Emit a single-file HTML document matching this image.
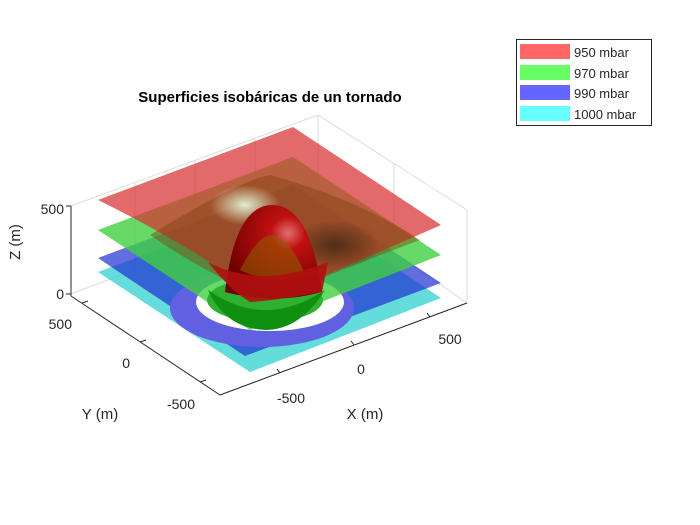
<!DOCTYPE html>
<html><head><meta charset="utf-8"><style>
html,body{margin:0;padding:0;background:#fff}
svg{display:block}
text{font-family:"Liberation Sans",sans-serif;fill:#262626}
</style></head><body>
<svg width="700" height="525" viewBox="0 0 700 525" xmlns="http://www.w3.org/2000/svg">
<defs>
<radialGradient id="glow" cx="0.5" cy="0.5" r="0.5"><stop offset="0" stop-color="#e8ffe0" stop-opacity="0.9"/><stop offset="1" stop-color="#e8ffe0" stop-opacity="0"/></radialGradient>
<radialGradient id="dome" cx="0.65" cy="0.3" r="0.7"><stop offset="0" stop-color="#e07070"/><stop offset="0.25" stop-color="#c01010"/><stop offset="1" stop-color="#6a0000"/></radialGradient>
<radialGradient id="dark" cx="0.5" cy="0.5" r="0.5"><stop offset="0" stop-color="#302010" stop-opacity="0.7"/><stop offset="1" stop-color="#302010" stop-opacity="0"/></radialGradient>
</defs>
<!-- grid / box back lines -->
<g stroke="#dcdcdc" stroke-width="1" fill="none">
<line x1="71" y1="206" x2="318" y2="115"/>
<line x1="318" y1="115" x2="467" y2="210"/>
<line x1="318" y1="115" x2="318" y2="200"/>
<line x1="71" y1="294" x2="318" y2="200"/>
<line x1="318" y1="200" x2="467" y2="303"/>
<line x1="467" y1="210" x2="467" y2="303"/>
<line x1="135" y1="182" x2="135" y2="270"/>
<line x1="195" y1="160" x2="195" y2="250"/>
<line x1="255" y1="138" x2="255" y2="226"/>
<line x1="394" y1="163" x2="394" y2="252"/>
</g>
<!-- cyan -->
<path d="M98,272 L293,200 L441,298 L250,372 Z" fill="#30d0d0" fill-opacity="0.75"/>
<!-- blue -->
<path d="M98,258 L293,185 L441,283 L245,356 Z" fill="#2030d0" fill-opacity="0.7"/>
<ellipse cx="262" cy="308" rx="92" ry="39" fill="#6060e0"/>
<ellipse cx="270" cy="302" rx="74" ry="29" fill="#ffffff"/>
<!-- green -->
<path d="M98,230 L293,157 L441,255 L250,330 Z" fill="#40d040" fill-opacity="0.8"/>
<ellipse cx="265" cy="300" rx="58" ry="22" fill="#30b030"/>
<path d="M208,290 Q265,330 325,290 Q300,330 265,330 Q225,328 208,290Z" fill="#109010"/>
<!-- red top -->
<path d="M98,200 L293,127 L441,225 Q350,265 268,300 Q180,240 98,200 Z" fill="#d83030" fill-opacity="0.72"/>
<path d="M150,235 Q240,180 270,175 Q360,200 420,240 Q340,270 268,300 Q200,270 150,235 Z" fill="#804010" fill-opacity="0.45"/>
<ellipse cx="335" cy="245" rx="45" ry="25" fill="url(#dark)"/>
<ellipse cx="245" cy="205" rx="35" ry="20" fill="url(#glow)"/>
<!-- dome -->
<path d="M225,292 Q235,205 272,205 Q310,205 322,292 Q275,305 225,292 Z" fill="url(#dome)"/>
<path d="M240,270 Q258,235 272,235 Q292,240 305,275 Q270,285 240,270Z" fill="#906000" fill-opacity="0.55"/>
<path d="M208,262 Q260,290 328,262 L322,292 Q280,300 250,302 Q230,290 208,262Z" fill="#b01010" fill-opacity="0.9"/>
<!-- axes -->
<g stroke="#262626" stroke-width="1" fill="none">
<line x1="71" y1="206" x2="71" y2="296"/>
<line x1="66" y1="206" x2="71" y2="206"/>
<line x1="66" y1="294" x2="71" y2="294"/>
<line x1="71" y1="296" x2="220" y2="395"/>
<line x1="220" y1="395" x2="467" y2="303"/>
<line x1="82" y1="303" x2="88" y2="301"/>
<line x1="140" y1="342" x2="146" y2="340"/>
<line x1="200" y1="382" x2="206" y2="380"/>
<line x1="280" y1="373" x2="277" y2="369"/>
<line x1="354" y1="345" x2="351" y2="341"/>
<line x1="430" y1="317" x2="427" y2="313"/>
</g>
<g font-size="14">
<text x="64" y="214" text-anchor="end">500</text>
<text x="64" y="299" text-anchor="end">0</text>
<text x="72" y="329" text-anchor="end">500</text>
<text x="130" y="368" text-anchor="end">0</text>
<text x="195" y="409" text-anchor="end">-500</text>
<text x="291" y="403" text-anchor="middle">-500</text>
<text x="361" y="374" text-anchor="middle">0</text>
<text x="450" y="344" text-anchor="middle">500</text>
<text x="100" y="419" text-anchor="middle" font-size="15">Y (m)</text>
<text x="365" y="419" text-anchor="middle" font-size="15">X (m)</text>
<text transform="translate(20,242) rotate(-90)" text-anchor="middle" font-size="15">Z (m)</text>
</g>
<text x="270" y="102" text-anchor="middle" font-size="15" font-weight="bold" style="fill:#000">Superficies isobáricas de un tornado</text>
<!-- legend -->
<rect x="516.5" y="39.5" width="135" height="86" fill="#fff" stroke="#262626" stroke-width="1"/>
<rect x="520" y="44" width="50" height="15" fill="#ff6666"/>
<rect x="520" y="65" width="50" height="15" fill="#66ff66"/>
<rect x="520" y="85" width="50" height="15" fill="#6666ff"/>
<rect x="520" y="106" width="50" height="15" fill="#66ffff"/>
<g font-size="13" style="fill:#000">
<text x="574" y="57">950 mbar</text>
<text x="574" y="78">970 mbar</text>
<text x="574" y="98">990 mbar</text>
<text x="574" y="119">1000 mbar</text>
</g>
</svg>
</body></html>
